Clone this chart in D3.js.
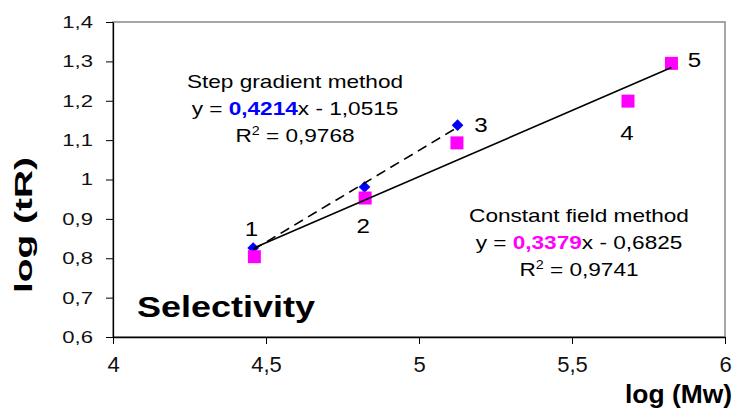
<!DOCTYPE html>
<html>
<head>
  <meta charset="utf-8">
  <script src="https://cdn.jsdelivr.net/npm/d3@7"></script>
  <style type="text/css">
    body {
      margin: 0;
      background: #fff;
      font-family: "Liberation Sans", Arial, Helvetica, sans-serif;
    }
    .axis path, .axis line {
      stroke: #000;
    }
  </style>
</head>
<body>
  <script type="text/javascript">

  // point names, shared by both series
  const pointLabels = ['1', '2', '3', '4', '5'];

  // constant field method (pink squares)
  const cfX = [4.462, 4.824, 5.124, 5.683, 5.825];
  const cfY = [0.804, 0.953, 1.093, 1.199, 1.295];

  // step gradient method (blue diamonds)
  const sgX = [4.458, 4.822, 5.126];
  const sgY = [0.826, 0.981, 1.138];

  const xTicks = [4, 4.5, 5, 5.5, 6];
  const yTicks = [0.6, 0.7, 0.8, 0.9, 1.0, 1.1, 1.2, 1.3, 1.4];

  const sgText = ['Step gradient method', '0,4214', 'x - 1,0515', '0,9768'];
  const cfText = ['Constant field method', '0,3379', 'x - 0,6825', '0,9741'];

  const W = 739, H = 411;
  const margin = {top: 22, right: 14, bottom: 74, left: 113};
  const width = W - margin.left - margin.right;
  const height = H - margin.top - margin.bottom;

  const svg = d3.select('body').append('svg')
    .attr('width', W)
    .attr('height', H);

  const g = svg.append('g')
    .attr('transform', `translate(${margin.left},${margin.top})`);

  const x = d3.scaleLinear().domain([4, 6]).range([0, width]);
  const y = d3.scaleLinear().domain([0.6, 1.4]).range([height, 0]);

  const comma = d => String(d).replace('.', ',');

  // plot area frame (grey, like excel)
  g.append('rect')
    .attr('width', width).attr('height', height)
    .attr('fill', 'none').attr('stroke', '#888').attr('stroke-width', 1.5);

  // axes
  const gx = g.append('g').attr('class', 'axis')
    .attr('transform', `translate(0,${height})`)
    .call(d3.axisBottom(x).tickValues(xTicks).tickFormat(comma).tickSize(7).tickPadding(12).tickSizeOuter(0));
  gx.selectAll('text').attr('font-size', 22).attr('fill', '#111')
    .attr('font-family', '"Liberation Sans", Arial, sans-serif');

  const gy = g.append('g').attr('class', 'axis')
    .call(d3.axisLeft(y).tickValues(yTicks).tickFormat(comma).tickSize(7).tickSizeOuter(0));
  gy.selectAll('text')
    .attr('x', 0)
    .attr('font-size', 17).attr('fill', '#111')
    .attr('font-family', '"Liberation Sans", Arial, sans-serif')
    .attr('transform', 'translate(-20,0) scale(1.3,1)');
  g.selectAll('.axis path').attr('stroke-width', 1.3);

  // least squares line through a series
  function fit(xs, ys) {
    const mx = d3.mean(xs), my = d3.mean(ys);
    const sxy = d3.sum(xs, (v, i) => (v - mx) * (ys[i] - my));
    const sxx = d3.sum(xs, v => (v - mx) * (v - mx));
    const b = sxy / sxx, a = my - b * mx;
    const x0 = d3.min(xs), x1 = d3.max(xs);
    return [[x0, a + b * x0], [x1, a + b * x1]];
  }

  const sgData = sgX.map((v, i) => ({x: v, y: sgY[i]}));
  const cfData = cfX.map((v, i) => ({x: v, y: cfY[i], label: pointLabels[i]}));

  // markers
  g.selectAll('.sg').data(sgData).enter().append('path')
    .attr('class', 'sg')
    .attr('d', d3.symbol(d3.symbolSquare, 68)())
    .attr('transform', d => `translate(${x(d.x)},${y(d.y)}) rotate(45)`)
    .attr('fill', '#0000ff');

  g.selectAll('.cf').data(cfData).enter().append('rect')
    .attr('class', 'cf')
    .attr('x', d => x(d.x) - 6.5).attr('y', d => y(d.y) - 6.5)
    .attr('width', 13).attr('height', 13)
    .attr('fill', '#ff00ff');

  // trend lines
  const line = d3.line().x(d => x(d[0])).y(d => y(d[1]));
  g.append('path').datum(fit(sgX, sgY))
    .attr('d', line).attr('fill', 'none')
    .attr('stroke', '#000').attr('stroke-width', 1.6).attr('stroke-dasharray', '10,6');
  g.append('path').datum(fit(cfX, cfY))
    .attr('d', line).attr('fill', 'none')
    .attr('stroke', '#000').attr('stroke-width', 1.6);

  // point numbers, offsets from the pink squares
  const labelOffset = [[-3, -21], [-2, 35], [24, -11], [-1, 39], [23, 4]];
  g.selectAll('.num').data(cfData).enter().append('text')
    .attr('class', 'num')
    .attr('transform', (d, i) => `translate(${x(d.x) + labelOffset[i][0]},${y(d.y) + labelOffset[i][1]}) scale(1.15,1)`)
    .attr('text-anchor', 'middle')
    .attr('font-size', 21)
    .text(d => d.label);

  // regression captions
  function caption(cx, top, t, color) {
    const c = svg.append('g').attr('font-size', 19).attr('fill', '#000');
    c.append('text').attr('text-anchor', 'middle')
      .attr('transform', `translate(${cx},${top}) scale(1.19,1)`).text(t[0]);
    const eq = c.append('text').attr('text-anchor', 'middle')
      .attr('transform', `translate(${cx},${top + 27}) scale(1.19,1)`);
    eq.append('tspan').text('y = ');
    eq.append('tspan').attr('font-weight', 'bold').attr('fill', color).text(t[1]);
    eq.append('tspan').text(t[2]);
    const r2 = c.append('text').attr('text-anchor', 'middle')
      .attr('transform', `translate(${cx},${top + 54}) scale(1.19,1)`);
    r2.append('tspan').text('R');
    r2.append('tspan').attr('font-size', 12).attr('dy', -7).text('2');
    r2.append('tspan').attr('dy', 7).text(' = ' + t[3]);
  }
  caption(295, 88, sgText, '#0000ff');
  caption(579, 222, cfText, '#ff00ff');

  // titles
  svg.append('text')
    .attr('x', 137).attr('y', 317)
    .attr('font-size', 30).attr('font-weight', 'bold')
    .attr('textLength', 178).attr('lengthAdjust', 'spacingAndGlyphs')
    .text('Selectivity');

  svg.append('text')
    .attr('x', 625).attr('y', 403)
    .attr('font-size', 25).attr('font-weight', 'bold')
    .attr('textLength', 107).attr('lengthAdjust', 'spacingAndGlyphs')
    .text('log (Mw)');

  svg.append('text')
    .attr('transform', 'translate(32,225) rotate(-90)')
    .attr('text-anchor', 'middle')
    .attr('font-size', 24).attr('font-weight', 'bold')
    .attr('textLength', 136).attr('lengthAdjust', 'spacingAndGlyphs')
    .text('log (tR)');

  </script>
</body>
</html>
